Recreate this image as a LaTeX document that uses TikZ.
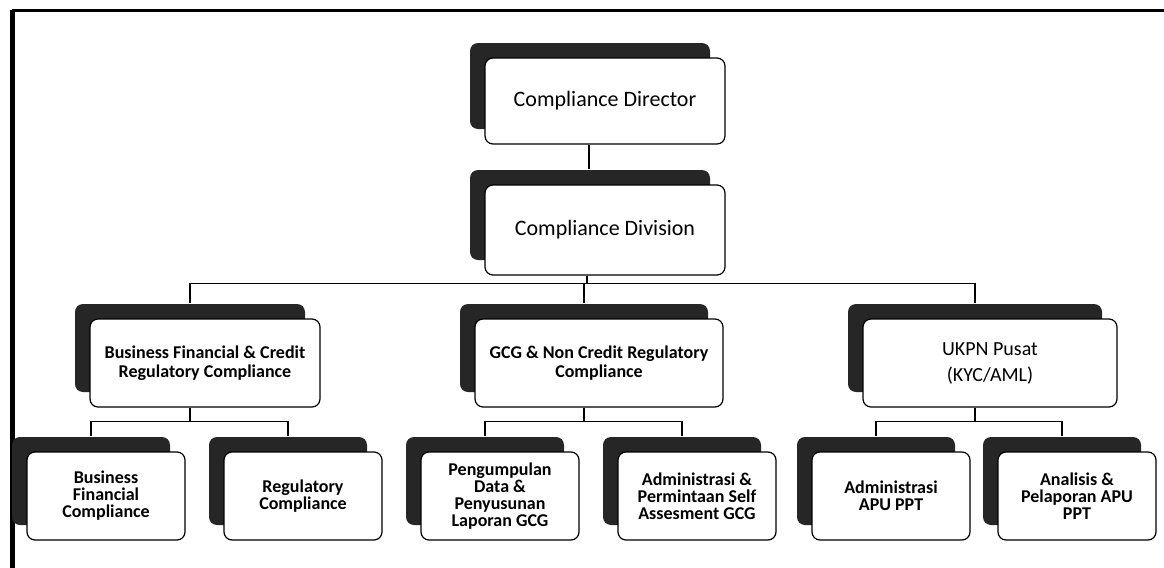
\documentclass[tikz,border=0pt]{standalone}
\usepackage{fontspec}
\setmainfont{Carlito}
\usetikzlibrary{shadows}

\begin{document}
\begin{tikzpicture}[x=0.5pt, y=-0.5pt,
  unit/.style={draw, rounded corners=4pt, fill=white, align=center, inner sep=2pt, line width=0.6pt,
    drop shadow={shadow xshift=-7.5pt, shadow yshift=7.5pt, fill=black!85, opacity=1}},
  head/.style={unit, minimum width=120pt, minimum height=43pt, font=\fontsize{11}{13}\selectfont},
  dept/.style={unit, minimum height=44pt, font=\bfseries\fontsize{9}{9.5}\selectfont},
  sect/.style={unit, minimum width=79pt, minimum height=44pt, font=\bfseries\fontsize{9}{8.5}\selectfont},
  link/.style={draw, line width=0.6pt}]
  \useasboundingbox (0,0) rectangle (1164,568);

  % Frame
  \draw[line width=1.5pt] (1164,10) -- (12,10);
  \draw[line width=2.5pt] (12,10) -- (12,568);

  % Top levels
  \node[head] (director) at (605,101) {Compliance Director};
  \node[head, minimum height=45pt] (division) at (605,230) {Compliance Division};

  % Departments
  \node[dept, minimum width=115pt] (bfcrc) at (205,363) {Business Financial \& Credit\\Regulatory Compliance};
  \node[dept, minimum width=124pt] (gcgnon) at (599,363) {GCG \& Non Credit Regulatory\\Compliance};
  \node[dept, minimum width=127pt, font=\fontsize{10}{13}\selectfont] (ukpn) at (990,363) {UKPN Pusat\\(KYC/AML)};

  % Sections
  \node[sect] (bfc) at (106,496) {Business\\Financial\\Compliance};
  \node[sect] (regc) at (303,496) {Regulatory\\Compliance};
  \node[sect] (pengumpulan) at (500,496) {Pengumpulan\\Data \&\\Penyusunan\\Laporan GCG};
  \node[sect] (permintaan) at (697,496) {Administrasi \&\\Permintaan Self\\Assesment GCG};
  \node[sect] (apuppt) at (891,496) {Administrasi\\APU PPT};
  \node[sect] (pelaporan) at (1077,496) {Analisis \&\\Pelaporan APU\\PPT};

  % Connectors
  \draw[link] ([xshift=-8pt]director.south) -- ([shift={(-8pt,7.5pt)}]division.north);
  \foreach \child in {bfcrc, gcgnon, ukpn}
    \draw[link] ([xshift=-9pt]division.south) -- ++(0,8) -| ([shift={(-7.5pt,7.5pt)}]\child.north);
  \foreach \parent/\child in {bfcrc/bfc, bfcrc/regc, gcgnon/pengumpulan, gcgnon/permintaan, ukpn/apuppt, ukpn/pelaporan}
    \draw[link] ([xshift=-7.5pt]\parent.south) -- ++(0,14) -| ([shift={(-7.5pt,7.5pt)}]\child.north);
\end{tikzpicture}
\end{document}
